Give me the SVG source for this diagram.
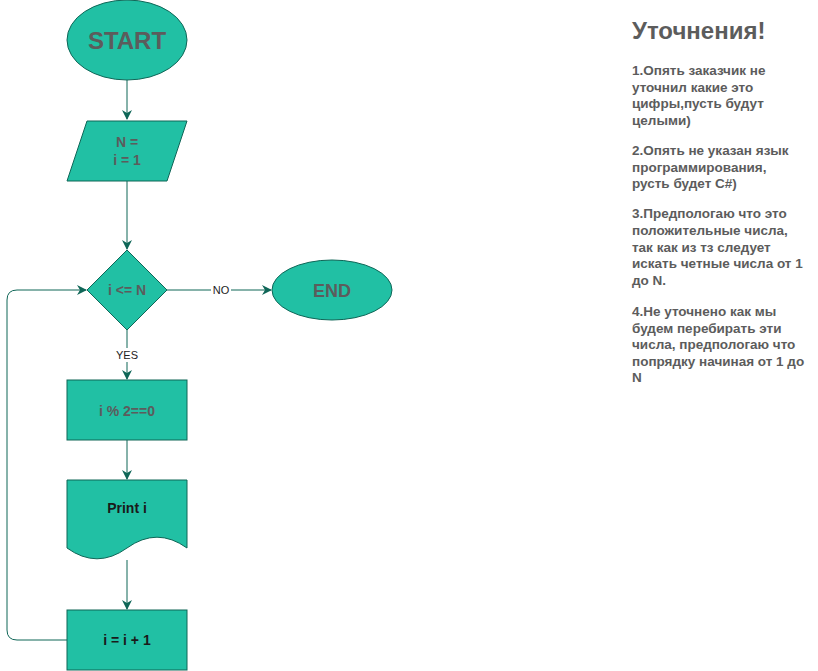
<svg xmlns="http://www.w3.org/2000/svg" width="818" height="671" viewBox="0 0 818 671">
<defs>
<marker id="ah" markerWidth="10" markerHeight="10" refX="9" refY="5" orient="auto" markerUnits="userSpaceOnUse">
<path d="M0,0 L10,5 L0,10 L3,5 Z" fill="#0F6657"/>
</marker>
<style>
.n{fill:#21C0A4;stroke:#0F6657;stroke-width:1}
.t{font-family:"Liberation Sans",Arial,sans-serif;font-weight:bold;text-anchor:middle;fill:#5C5C5C;font-size:14px}
.b{fill:#1A1A1A}
.e{fill:none;stroke:#0F6657;stroke-width:1}
.l{font-family:"Liberation Sans",Arial,sans-serif;font-size:11px;text-anchor:middle;fill:#222}
.r{font-family:"Liberation Sans",Arial,sans-serif;font-weight:bold;font-size:13.5px;fill:#5C5C5C}
</style>
</defs>
<rect width="818" height="671" fill="#fff"/>
<g id="edges">
<path class="e" d="M127,80 V119" marker-end="url(#ah)"/>
<path class="e" d="M127,181 V249" marker-end="url(#ah)"/>
<path class="e" d="M167,290 H271" marker-end="url(#ah)"/>
<rect x="211" y="283" width="20" height="14" fill="#fff"/>
<text class="l" x="221" y="294">NO</text>
<path class="e" d="M127,330 V379" marker-end="url(#ah)"/>
<rect x="114" y="348" width="26" height="14" fill="#fff"/>
<text class="l" x="127" y="359">YES</text>
<path class="e" d="M127,440 V479" marker-end="url(#ah)"/>
<path class="e" d="M127,560 V609" marker-end="url(#ah)"/>
<path class="e" d="M67,640 H17 Q7,640 7,630 V300 Q7,290 17,290 H86" marker-end="url(#ah)"/>
</g>
<g id="start">
<ellipse class="n" cx="127" cy="40" rx="60" ry="40"/>
<text class="t" x="127" y="48.5" style="font-size:24px">START</text>
</g>
<g id="input">
<polygon class="n" points="87,121 187,121 167,181 67,181"/>
<text class="t" x="127" y="146.7">N =</text>
<text class="t" x="127" y="165">i = 1</text>
</g>
<g id="decision">
<polygon class="n" points="127,250 167,290 127,330 87,290"/>
<text class="t" x="127" y="295">i &lt;= N</text>
</g>
<g id="end">
<ellipse class="n" cx="332" cy="290" rx="60" ry="30"/>
<text class="t" x="332" y="296.5" style="font-size:18px">END</text>
</g>
<g id="check">
<rect class="n" x="67" y="380" width="120" height="60"/>
<text class="t" x="127" y="415.5">i % 2==0</text>
</g>
<g id="print">
<path class="n" d="M67,480 H187 V548 Q157,526.4 127,548 Q97,569.6 67,548 Z"/>
<text class="t b" x="127" y="512.5">Print i</text>
</g>
<g id="inc">
<rect class="n" x="67" y="610" width="120" height="60"/>
<text class="t b" x="127" y="645">i = i + 1</text>
</g>
<g id="notes">
<text class="r" x="632" y="39" style="font-size:24px">Уточнения!</text>
<text class="r" x="632" y="75">1.Опять заказчик не</text>
<text class="r" x="632" y="91.5">уточнил какие это</text>
<text class="r" x="632" y="108">цифры,пусть будут</text>
<text class="r" x="632" y="124.5">целыми)</text>
<text class="r" x="632" y="155">2.Опять не указан язык</text>
<text class="r" x="632" y="171.5">программирования,</text>
<text class="r" x="632" y="188">русть будет С#)</text>
<text class="r" x="632" y="218">3.Предпологаю что это</text>
<text class="r" x="632" y="235">положительные числа,</text>
<text class="r" x="632" y="251.5">так как из тз следует</text>
<text class="r" x="632" y="268">искать четные числа от 1</text>
<text class="r" x="632" y="285">до N.</text>
<text class="r" x="632" y="316">4.Не уточнено как мы</text>
<text class="r" x="632" y="332.5">будем перебирать эти</text>
<text class="r" x="632" y="349">числа, предпологаю что</text>
<text class="r" x="632" y="365.5">попрядку начиная от 1 до</text>
<text class="r" x="632" y="382">N</text>
</g>
</svg>
